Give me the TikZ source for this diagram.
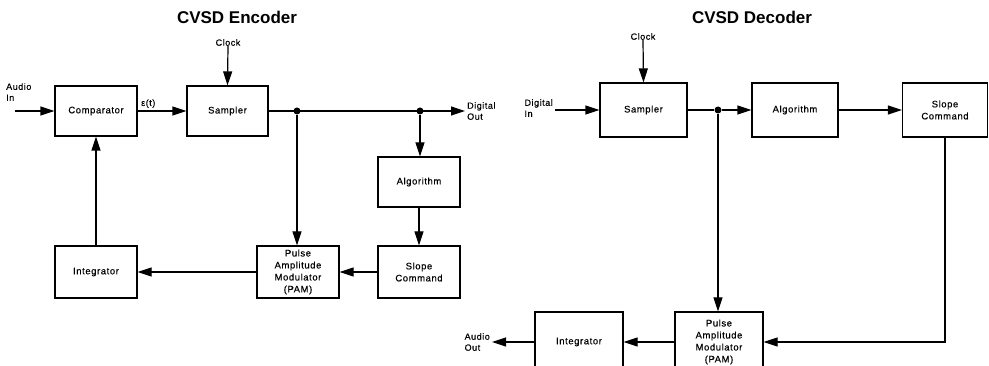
\documentclass[tikz,border=0pt]{standalone}
\usepackage{fontspec}
\setmainfont{Liberation Sans}
\newfontfamily\labfont[LetterSpace=6,FakeBold=0.35]{Liberation Sans}
\usetikzlibrary{arrows.meta}
\begin{document}
\begin{tikzpicture}[x=1pt,y=-1pt,
  blk/.style={draw,line width=1.2pt,inner sep=0pt,align=center,font=\labfont\fontsize{9.5}{12}\selectfont},
  lbl/.style={inner sep=0pt,align=left,font=\labfont\fontsize{9}{11}\selectfont},
  ttl/.style={inner sep=0pt,font=\bfseries\fontsize{17}{20}\selectfont},
  arr/.style={line width=1.2pt,-{Triangle[length=14pt,width=9pt]}},
  ln/.style={line width=1.2pt},
  dot/.style={circle,fill,inner sep=0pt,minimum size=7pt}]
\useasboundingbox (0,0) rectangle (989,366);
% ---------------- Encoder ----------------
\node[ttl] (tenc) at (237,17) {CVSD Encoder};
\node[blk,minimum width=82pt,minimum height=50pt] (comp) at (96,111) {Comparator};
\node[blk,minimum width=81pt,minimum height=50pt] (samp) at (227.5,111) {Sampler};
\node[blk,minimum width=82pt,minimum height=50pt] (alg) at (419,182) {Algorithm};
\node[blk,minimum width=82pt,minimum height=52pt] (slope) at (419,272) {Slope\\Command};
\node[blk,minimum width=82pt,minimum height=52pt] (pam) at (298,272) {Pulse\\Amplitude\\Modulator\\(PAM)};
\node[blk,minimum width=82pt,minimum height=52pt] (integ) at (96,272) {Integrator};
\node[lbl,anchor=south] (clk) at (228,46) {Clock};
\node[lbl,anchor=south west] (ain) at (6,101) {Audio\\In};
\node[lbl,anchor=south west] (eps) at (141,108) {ε(t)};
\node[lbl,anchor=west] (dout) at (467,111) {Digital\\Out};
\coordinate (ainS) at (15,111);
\coordinate (doutE) at (465,111);
\node[dot] (d1) at (297,111) {};
\node[dot] (d2) at (420,111) {};
\draw[arr] (ainS) -- (comp.west);
\draw[arr] (comp.east) -- (samp.west);
\draw[arr] (clk.south) -- (samp.north);
\draw[arr] (samp.east) -- (doutE);
\draw[arr] (d1) -- (d1 |- pam.north);
\draw[arr] (d2) -- (d2 |- alg.north);
\draw[arr] (alg.south) -- (slope.north);
\draw[arr] (slope.west) -- (pam.east);
\draw[arr] (pam.west) -- (integ.east);
\draw[arr] (integ.north) -- (comp.south);
% ---------------- Decoder ----------------
\node[ttl] (tdec) at (752,17) {CVSD Decoder};
\node[blk,minimum width=87pt,minimum height=54pt] (dsamp) at (643.5,110) {Sampler};
\node[blk,minimum width=86pt,minimum height=54pt] (dalg) at (795,110) {Algorithm};
\node[blk,minimum width=85pt,minimum height=54pt] (dslope) at (945,110) {Slope\\Command};
\node[blk,minimum width=88pt,minimum height=60pt] (dpam) at (719,342) {Pulse\\Amplitude\\Modulator\\(PAM)};
\node[blk,minimum width=88pt,minimum height=60pt] (dinteg) at (579,342) {Integrator};
\node[lbl,anchor=south] (dclk) at (643,40) {Clock};
\node[lbl,anchor=east] (din) at (553,108) {Digital\\In};
\node[lbl,anchor=east] (aout) at (490,342) {Audio\\Out};
\coordinate (dinS) at (555,110);
\coordinate (aoutE) at (492,342);
\node[dot] (d3) at (718,110) {};
\draw[arr] (dinS) -- (dsamp.west);
\draw[arr] (dclk.south) -- (dsamp.north);
\draw[ln] (dsamp.east) -- (d3);
\draw[arr] (d3) -- (dalg.west);
\draw[arr] (dalg.east) -- (dslope.west);
\draw[arr] (d3) -- (d3 |- dpam.north);
\draw[arr] (dslope.south) |- (dpam.east);
\draw[arr] (dpam.west) -- (dinteg.east);
\draw[arr] (dinteg.west) -- (aoutE);
\end{tikzpicture}
\end{document}
